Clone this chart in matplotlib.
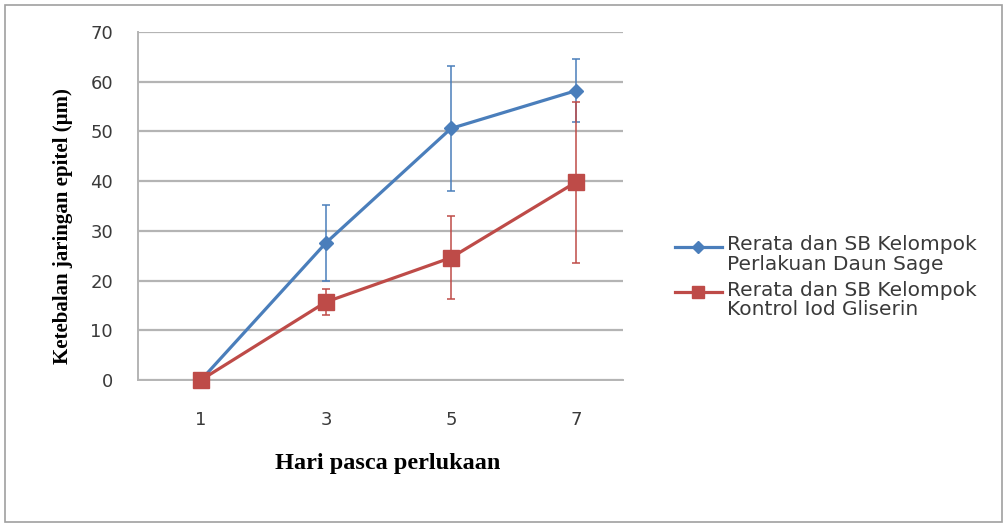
import matplotlib
matplotlib.use("Agg")
import matplotlib.pyplot as plt
from matplotlib.patches import Rectangle
from matplotlib.lines import Line2D
from matplotlib.transforms import Affine2D

days = ["1", "3", "5", "7"]
sage_mean = [0, 27.6, 50.6, 58.2]
sage_sd = [0, 7.7, 12.6, 6.4]
kontrol_mean = [0, 15.7, 24.6, 39.8]
kontrol_sd = [0, 2.7, 8.4, 16.2]
labels = ["Rerata dan SB Kelompok\nPerlakuan Daun Sage",
          "Rerata dan SB Kelompok\nKontrol Iod Gliserin"]

blue = "#4a7ebb"
red = "#be4b48"
W, H = 1006, 526

fig = plt.figure(figsize=(W/100, H/100), dpi=100)
fig.patches.append(Rectangle((5/W, 4/H), (W-9)/W, (H-9)/H, transform=fig.transFigure,
                             fill=False, edgecolor="#a0a0a0", linewidth=1.2))
ax = fig.add_axes([138/W, 1-380/H, (623-138)/W, (380-32)/H])

x = list(range(len(days)))
ax.errorbar(x, sage_mean, yerr=sage_sd, color=blue, lw=2.3, marker="D", ms=7,
            ecolor=blue, elinewidth=1.1, capsize=2.6, capthick=1.1, zorder=3)
ax.errorbar(x, kontrol_mean, yerr=kontrol_sd, color=red, lw=2.3, marker="s", ms=11,
            ecolor=red, elinewidth=1.1, capsize=2.6, capthick=1.1, zorder=3)

ax.set_xlim(-0.504, 3.376)
ax.set_ylim(0, 70)
ax.set_yticks(range(0, 71, 10))
ax.set_xticks(x)
ax.set_xticklabels(days)
ax.grid(axis="y", color="#b4b4b4", lw=1.6)
ax.set_axisbelow(True)
for s in ["top", "right"]:
    ax.spines[s].set_visible(False)
for s in ["bottom", "left"]:
    ax.spines[s].set_color("#b4b4b4")
    ax.spines[s].set_linewidth(1.4)
ax.tick_params(length=0, labelsize=13, colors="#3a3a3a")
ax.tick_params(axis="y", pad=18)
ax.tick_params(axis="x", pad=22)
for t in ax.get_xticklabels() + ax.get_yticklabels():
    t.set_fontfamily("DejaVu Sans")
for c in ax.get_children():
    try:
        c.set_clip_on(False)
    except Exception:
        pass

fig.text(388/W, 1-463/H, "Hari pasca perlukaan", ha="center", va="center",
         fontsize=17.5, fontweight="bold", family="Liberation Serif")
fig.text(63/W, 1-226/H, "Ketebalan jaringan epitel (µm)", ha="center", va="center",
         rotation=90, fontsize=15, fontweight="bold", family="Liberation Serif")

# manual legend (handle aligned with first text line, like the original)
px = Affine2D().scale(1/W, -1/H).translate(0, 1) + fig.transFigure
entries = [(blue, "D", 6, 247, labels[0]), (red, "s", 9, 292, labels[1])]
for col, mk, ms, yc, lab in entries:
    fig.add_artist(Line2D([675, 722], [yc, yc], transform=px, color=col, lw=2.3,
                          marker=None))
    fig.add_artist(Line2D([698.5], [yc], transform=px, color=col, marker=mk, ms=ms,
                          lw=0))
    fig.text(727/W, 1-(yc-11.5)/H, lab, ha="left", va="top", fontsize=14.5,
             family="DejaVu Sans", color="#3a3a3a", linespacing=1.05)

fig.savefig("out.png", dpi=100)
